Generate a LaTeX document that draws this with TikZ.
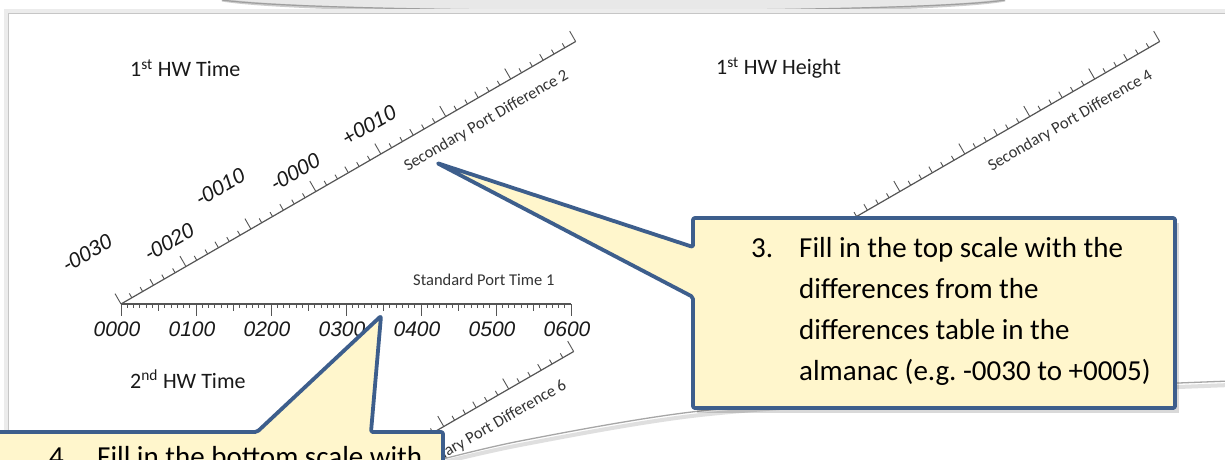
\documentclass[tikz,border=0pt]{standalone}
\usepackage{fontspec}
\setmainfont{Carlito}
\newfontfamily\handfont{Liberation Sans}
\definecolor{cborder}{HTML}{3D5E8C}
\definecolor{cfill}{HTML}{FFF6CC}
\definecolor{tickc}{HTML}{555555}
\tikzset{
  scaleline/.style={draw=tickc, line width=1.2pt},
  tickline/.style={draw=tickc, line width=0.9pt},
  hand/.style={font=\handfont\itshape\fontsize{21}{24}\selectfont, text=black!90, inner sep=0pt},
  scalelabel/.style={font=\fontsize{16.5}{18}\selectfont, text=black!80, inner sep=0pt},
  titletext/.style={font=\fontsize{22}{26}\selectfont, text=black!90, inner sep=0pt, anchor=west},
  callout/.style={draw=cborder, fill=cfill, line width=3.8pt, line join=round, rounded corners=2pt},
  callouttext/.style={font=\fontsize{29}{41}\selectfont, text=black, inner sep=0pt, anchor=base west},
}
\newcommand\diagscale[4]{%
  \begin{scope}[shift={(#1,#2)}, rotate=30]
    \draw[scaleline] (0,0) -- (525,0);
    \foreach \k in {0,...,7} \draw[tickline] (75*\k,0) -- (75*\k,-12);
    \foreach \k in {0,...,6} {
      \foreach \m in {1,...,5} {
        \pgfmathsetmacro\len{ifthenelse(\m==3,7,5)}
        \draw[tickline] ({75*\k+12.5*\m},0) -- ({75*\k+12.5*\m},-\len);
      }
    }
    \node[scalelabel, rotate=30] (#4) at (408,24) {#3};
  \end{scope}}
\begin{document}
\frenchspacing
\begin{tikzpicture}[x=1pt,y=-1pt]
\useasboundingbox (0,0) rectangle (1225,459);
\clip (0,0) rectangle (1225,459);
\fill[white] (0,0) rectangle (1225,459);
% top curled shadow
\fill[gray!18] (222,0) .. controls (320,18) and (920,18) .. (1005,0) -- cycle;
\draw[gray!40, line width=3pt] (222,0) .. controls (320,16) and (920,16) .. (1005,0);
\draw[gray!75, line width=1.2pt] (222,0) .. controls (320,14) and (920,14) .. (1005,0);
% page edges
\draw[gray!15, line width=4pt] (6,470) -- (6,11) -- (1230,11);
\draw[gray!45, line width=1pt] (8,470) -- (8,13) -- (1230,13);
% bottom page curl
\draw[gray!25, line width=4pt] plot[smooth] coordinates {(420,468) (520,445) (700,415) (950,397) (1230,385)};
\draw[gray!70, line width=1.3pt] plot[smooth] coordinates {(420,465) (520,441) (700,411) (950,393) (1230,381)};
% titles
\node[titletext] (t1) at (130,68) {1\textsuperscript{st} HW Time};
\node[titletext] (t2) at (716,68) {1\textsuperscript{st} HW Height};
\node[titletext] (t3) at (130,379) {2\textsuperscript{nd} HW Time};
% diagonal scales
\diagscale{121}{304}{Secondary Port Difference 2}{d2}
\diagscale{705}{304}{Secondary Port Difference 4}{d4}
\diagscale{119}{614}{Secondary Port Difference 6}{d6}
% horizontal scale
\draw[scaleline] (121,304) -- (571,304);
\foreach \k in {0,...,6} \draw[tickline] (121+75*\k,304) -- (121+75*\k,316);
\foreach \k in {0,...,5} {
  \foreach \m in {1,...,11} {
    \pgfmathsetmacro\len{ifthenelse(\m==6,7,4)}
    \draw[tickline] ({121+75*\k+6.25*\m},304) -- ({121+75*\k+6.25*\m},304+\len);
  }
}
\node[scalelabel, anchor=west] (sp1) at (413,280) {Standard Port Time 1};
\foreach \lab [count=\i from 0] in {0000,0100,0200,0300,0400,0500,0600}
  \node[hand] (h\i) at (117+75*\i,329) {\lab};
% handwritten differences
\node[hand, rotate=30] (a1) at (87,253) {-0030};
\node[hand, rotate=30] (a2) at (169,242) {-0020};
\node[hand, rotate=30] (a3) at (220,187) {-0010};
\node[hand, rotate=30] (a4) at (295,172) {-0000};
\node[hand, rotate=30] (a5) at (369,125) {+0010};
% callout 3
\coordinate (tip3) at (437,163);
\fill[black, opacity=0.15] (697,223) -- (1179,223) -- (1179,413) -- (697,413) -- cycle;
\path[callout] (693,218) -- (1175,218) -- (1175,408) -- (693,408) -- (693,297) -- (tip3) -- (693,247) -- cycle;
\node[callouttext] (c3n) at (751,257) {3.};
\node[callouttext] (c3a) at (799,257) {Fill in the top scale with the};
\node[callouttext] (c3b) at (799,298) {differences from the};
\node[callouttext] (c3c) at (799,339) {differences table in the};
\node[callouttext] (c3d) at (799,380) {almanac (e.g. -0030 to +0005)};
% callout 4
\coordinate (tip4) at (381,316);
\path[callout] (-10,480) -- (-10,432) -- (257,432) -- (tip4) -- (371,432) -- (443,432) -- (443,480) -- cycle;
\node[callouttext] (c4n) at (49,466) {4.};
\node[callouttext] (c4a) at (97,466) {Fill in the bottom scale with};
\end{tikzpicture}
\end{document}
